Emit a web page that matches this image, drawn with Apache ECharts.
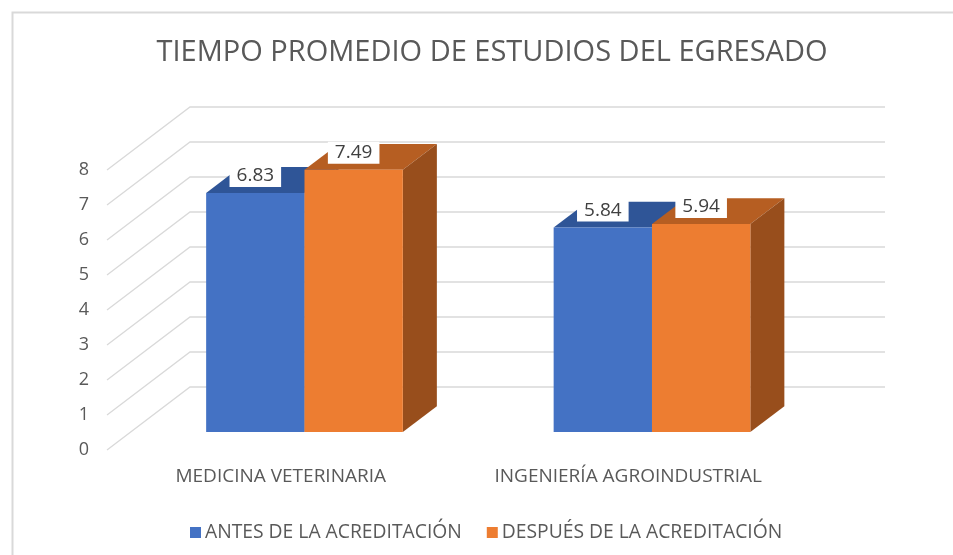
<!DOCTYPE html>
<html>
<head>
<meta charset="utf-8">
<script src="https://cdn.jsdelivr.net/npm/echarts@6/dist/echarts.min.js"></script>
<style>
	html, body { margin: 0; padding: 0; background: #fff; }
	#main { width: 953px; height: 555px; }
</style>
</head>
<body>
<div id="main"></div>
<script>
var categories = ['MEDICINA VETERINARIA', 'INGENIERÍA AGROINDUSTRIAL'];
var seriesNames = ['ANTES DE LA ACREDITACIÓN', 'DESPUÉS DE LA ACREDITACIÓN'];
var antes = [6.83, 5.84];
var despues = [7.49, 5.94];
var ticks = [0, 1, 2, 3, 4, 5, 6, 7, 8];

// colores: cara frontal, tapa, lateral
var faceColors = [
	['#4472C4', '#2F5597', '#2B4F8C'],
	['#ED7D31', '#B65E22', '#984E1C']
];

// profundidad de la caja 3D (px)
var DX = 83, DY = -63;
var F0 = 0.286;   // donde empieza la barra
var FD = 0.41;    // grosor de la barra
var BAR_FRAC = 0.283;
var FONT = "'Open Sans', 'Noto Sans', sans-serif";

var myChart = echarts.init(document.getElementById('main'));

function renderWall(params, api) {
	var cs = params.coordSys;
	var y = api.coord([0, api.value(1)])[1];
	var x = cs.x;
	return {
		type : 'polyline',
		shape : {
			points : [ [ x, y ], [ x + DX, y + DY ], [ x + cs.width + DX, y + DY ] ]
		},
		style : {
			fill : null,
			stroke : '#D9D9D9',
			lineWidth : 1.3
		},
		silent : true
	};
}

function renderBar(params, api) {
	var si = params.seriesIndex - 1;
	var cat = api.value(0);
	var val = api.value(1);
	var base = api.coord([ cat, 0 ]);
	var top = api.coord([ cat, val ]);
	var band = api.size([ 1, 0 ])[0];
	var bw = band * BAR_FRAC;
	var x0 = base[0] - bw + si * bw + F0 * DX;
	var x1 = x0 + bw;
	var yb = base[1] + F0 * DY;
	var yt = top[1] + F0 * DY;
	var ddx = FD * DX, ddy = FD * DY;
	var c = faceColors[si];
	return {
		type : 'group',
		children : [ {
			type : 'polygon',
			shape : { points : [ [ x0, yt ], [ x1, yt ], [ x1 + ddx, yt + ddy ], [ x0 + ddx, yt + ddy ] ] },
			style : { fill : c[1] }
		}, {
			type : 'polygon',
			shape : { points : [ [ x1, yt ], [ x1 + ddx, yt + ddy ], [ x1 + ddx, yb + ddy ], [ x1, yb ] ] },
			style : { fill : c[2] }
		}, {
			type : 'rect',
			shape : { x : x0, y : yt, width : bw, height : yb - yt },
			style : { fill : c[0] }
		}, {
			type : 'text',
			x : (x0 + x1) / 2,
			y : yt - 17,
			style : {
				text : val.toFixed(2),
				fill : '#404040',
				font : '19px ' + FONT,
				align : 'center',
				verticalAlign : 'middle',
				backgroundColor : '#fff',
				padding : [ 2, 7, 1, 7 ]
			}
		} ]
	};
}

var option = {
	animation : false,
	title : {
		text : 'TIEMPO PROMEDIO DE ESTUDIOS DEL EGRESADO',
		left : 487,
		textAlign : 'center',
		top : 33,
		textStyle : {
			fontFamily : FONT,
			fontSize : 29,
			fontWeight : 'normal',
			color : '#595959'
		}
	},
	legend : {
		data : seriesNames,
		left : 185,
		top : 518,
		icon : 'rect',
		itemWidth : 11,
		itemHeight : 11,
		itemGap : 25,
		textStyle : {
			fontFamily : FONT,
			fontSize : 19.3,
			color : '#595959',
			padding : [ 0, 0, 0, -1 ]
		}
	},
	grid : {
		left : 107,
		right : 151,
		top : 170,
		bottom : 105
	},
	xAxis : {
		type : 'category',
		data : categories,
		axisLine : { show : false },
		axisTick : { show : false },
		axisLabel : {
			interval : 0,
			hideOverlap : false,
			margin : 17,
			fontFamily : FONT,
			fontSize : 19,
			color : '#595959'
		}
	},
	yAxis : {
		type : 'value',
		min : 0,
		max : 8,
		interval : 1,
		splitLine : { show : false },
		axisLine : { show : false },
		axisTick : { show : false },
		axisLabel : {
			margin : 18,
			fontFamily : FONT,
			fontSize : 18,
			color : '#595959'
		}
	},
	graphic : [ {
		type : 'polyline',
		shape : { points : [ [ 12.5, 555 ], [ 12.5, 12.5 ], [ 953, 12.5 ] ] },
		style : { fill : null, stroke : '#D9D9D9', lineWidth : 2 },
		silent : true
	} ],
	series : [ {
		type : 'custom',
		name : 'muro',
		renderItem : renderWall,
		data : ticks.map(function(t) { return [ 0, t ]; }),
		z : 1
	}, {
		type : 'custom',
		name : seriesNames[0],
		renderItem : renderBar,
		itemStyle : { color : faceColors[0][0] },
		data : antes.map(function(v, i) { return [ i, v ]; }),
		z : 2
	}, {
		type : 'custom',
		name : seriesNames[1],
		renderItem : renderBar,
		itemStyle : { color : faceColors[1][0] },
		data : despues.map(function(v, i) { return [ i, v ]; }),
		z : 3
	} ]
};

myChart.setOption(option);
</script>
</body>
</html>
